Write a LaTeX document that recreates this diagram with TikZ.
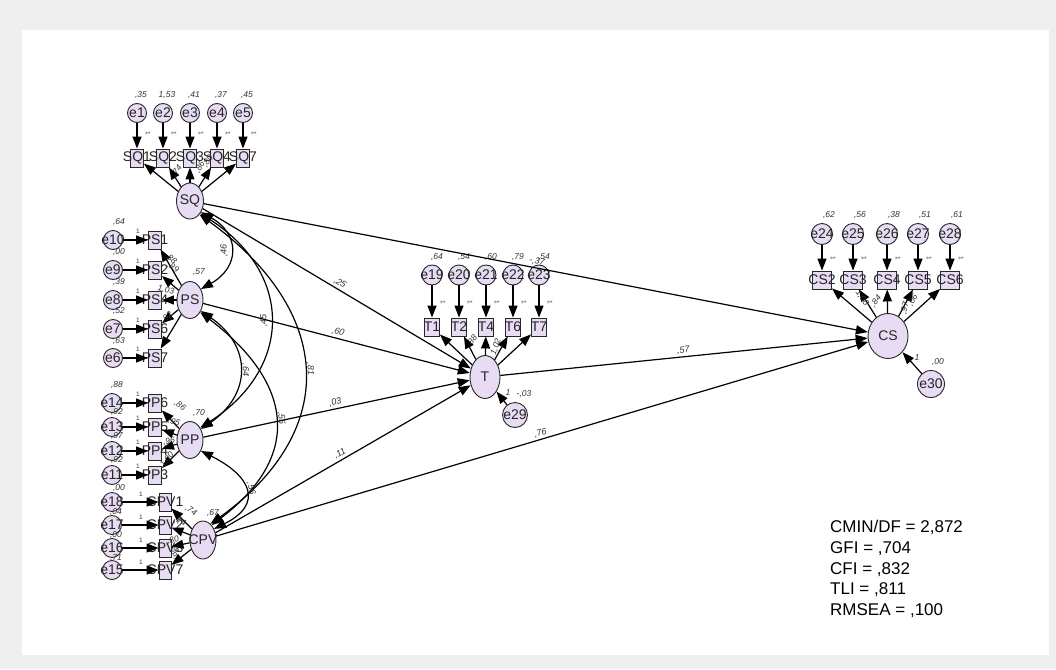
\documentclass[tikz,border=0pt]{standalone}
\usepackage{fontspec}
\setmainfont{Liberation Sans}
\usetikzlibrary{shapes.geometric,arrows.meta}
\definecolor{lav}{RGB}{231,220,243}
\definecolor{bgc}{RGB}{239,239,239}
\definecolor{ln}{RGB}{40,40,40}
\begin{document}
\begin{tikzpicture}[x=1pt,y=-1pt,
  txt/.style={font=\fontsize{14}{14}\selectfont,text=black!85},
  sm/.style={font=\itshape\fontsize{8.5}{9}\selectfont,inner sep=0.5pt,text=black!80},
  one/.style={font=\fontsize{6.5}{6.5}\selectfont,inner sep=0pt,text=black!80},
  fit/.style={font=\fontsize{17}{17}\selectfont,anchor=base west,inner sep=0pt},
  nm/.style={label={[txt]center:#1}},
  err/.style={circle,draw=ln,line width=0.9pt,fill=lav,minimum size=#1,inner sep=0pt},
  err/.default=19pt,
  obs/.style={rectangle,draw=ln,line width=0.9pt,fill=lav,minimum width=#1,minimum height=18pt,inner sep=0pt},
  obs/.default=13pt,
  lat/.style={ellipse,draw=ln,line width=0.9pt,fill=lav,inner sep=0pt},
  arr/.style={-{Triangle[length=12pt,width=9pt]},line width=1.2pt},
  cov/.style={{Triangle[length=12pt,width=9pt]}-{Triangle[length=12pt,width=9pt]},line width=1.2pt},
  pl/.style={font=\itshape\fontsize{9}{9}\selectfont,inner sep=2pt,text=black!80}
]
\useasboundingbox (0,0) rectangle (1056,669);
\fill[bgc] (0,0) rectangle (1056,669);
\fill[white] (22,30) rectangle (1049,655);

% ---------- SQ cluster ----------
\node[lat,minimum width=27pt,minimum height=36pt,nm=SQ] (SQ) at (190,201) {};
\foreach \x/\e/\b/\v [count=\i] in {137/e1/SQ1/{,35},163/e2/SQ2/{1,53},190/e3/SQ3/{,41},217/e4/SQ4/{,37},243/e5/SQ7/{,45}}{
  \node[err,nm=\e] (\e) at (\x,113) {};
  \node[obs,nm=\b] (\b) at (\x,158) {};
  \node[sm] (v\e) at (\x+4,95) {\v};
  \node[one,rotate=-90] (o\e) at (\x+11,133) {1};
  \draw[arr] (\e) -- (\b);
  \draw[arr] (SQ) -- (\b);
}
\node[sm,rotate=55] (lsq2) at (177,171) {,74};
\node[sm,rotate=60] (lsq4) at (200,167) {,86};
\node[sm,rotate=55] (lsq5) at (208,161) {,80};

% ---------- PS cluster ----------
\node[lat,minimum width=26pt,minimum height=37pt,nm=PS] (PS) at (190,300) {};
\foreach \y/\e/\b/\v/\vy in {240/e10/PS1/{,64}/222,270/e9/PS2/{,00}/252,300/e8/PS4/{,39}/282,329/e7/PS6/{,52}/311,358/e6/PS7/{,63}/341}{
  \node[err,nm=\e] (\e) at (113,\y) {};
  \node[obs,nm=\b] (\b) at (155,\y) {};
  \node[sm] (v\e) at (119,\vy) {\v};
  \node[one] (o\e) at (138,\y-9) {1};
  \draw[arr] (\e) -- (\b);
  \draw[arr] (PS) -- (\b);
}
\node[sm,rotate=-40] (lps1) at (171,259) {,88};
\node[sm,rotate=-35] (lps2) at (173,268) {,89};
\node[sm,rotate=-10] (lps4) at (166,290) {1,03};
\node[sm,rotate=40] (lps6) at (167,317) {,92};
\node[sm] (vPS) at (199,272) {,57};

% ---------- PP cluster ----------
\node[lat,minimum width=26pt,minimum height=37pt,nm=PP] (PP) at (190,440) {};
\foreach \y/\e/\b/\v/\vy in {403/e14/PP6/{,88}/385,427/e13/PP5/{,92}/412,451/e12/PP4/{,97}/436,475/e11/PP3/{,92}/460}{
  \node[err,nm=\e] (\e) at (112,\y) {};
  \node[obs,nm=\b] (\b) at (155,\y) {};
  \node[sm] (v\e) at (117,\vy) {\v};
  \node[one] (o\e) at (138,\y-9) {1};
  \draw[arr] (\e) -- (\b);
  \draw[arr] (PP) -- (\b);
}
\node[sm] (v11b) at (119,488) {,00};
\node[sm,rotate=-35] (lpp6) at (180,406) {,86};
\node[sm,rotate=-20] (lpp5) at (174,422) {,95};
\node[sm,rotate=10] (lpp4) at (169,441) {,96};
\node[sm,rotate=50] (lpp3) at (167,460) {1,00};
\node[sm] (vPP) at (199,413) {,70};

% ---------- CPV cluster ----------
\node[lat,minimum width=26pt,minimum height=38pt,nm=CPV] (CPV) at (203,540) {};
\foreach \y/\e/\b/\v/\vy in {502/e18/CPV1/{,04}/512,525/e17/CPV2/{,00}/535,548/e16/CPV3/{,71}/558,570/e15/CPV7/{}/580}{
  \node[err,nm=\e] (\e) at (112,\y) {};
  \node[obs=12pt,nm=\b] (\b) at (165,\y) {};
  \node[sm] (v\e) at (116,\vy) {\v};
  \node[one] (o\e) at (141,\y-8) {1};
  \draw[arr] (\e) -- (\b);
  \draw[arr] (CPV) -- (\b);
}
\node[sm,rotate=-35] (lcp1) at (191,511) {,74};
\node[sm,rotate=-20] (lcp2) at (180,522) {,74};
\node[sm,rotate=15] (lcp3) at (173,540) {,80};
\node[sm,rotate=60] (lcp7) at (175,553) {,86};
\node[sm] (vCPV) at (213,513) {,67};

% ---------- T cluster ----------
\node[lat,minimum width=30pt,minimum height=43pt,nm=T] (T) at (485,377) {};
\foreach \x/\e/\b/\v in {432/e19/T1/{,64},459/e20/T2/{,54},486/e21/T4/{,60},513/e22/T6/{,79},539/e23/T7/{,54}}{
  \node[err=20pt,nm=\e] (\e) at (\x,275) {};
  \node[obs=15pt,nm=\b] (\b) at (\x,327) {};
  \node[sm] (v\e) at (\x+5,257) {\v};
  \node[one,rotate=-90] (o\e) at (\x+11,302) {1};
  \draw[arr] (\e) -- (\b);
  \draw[arr] (T) -- (\b);
}
\node[sm,rotate=50] (lt2) at (472,341) {,88};
\node[sm,rotate=70] (lt6) at (496,347) {1,02};
\node[err=25pt,nm=e29] (e29) at (515,415) {};
\draw[arr] (e29) -- (T);
\node[sm] (o29) at (508,393) {1};
\node[sm] (v29) at (524,394) {-,03};

% ---------- CS cluster ----------
\node[lat,minimum width=40pt,minimum height=45pt,nm=CS] (CS) at (888,336) {};
\foreach \x/\e/\b/\v in {822/e24/CS2/{,62},853/e25/CS3/{,56},887/e26/CS4/{,38},918/e27/CS5/{,51},950/e28/CS6/{,61}}{
  \node[err=21pt,nm=\e] (\e) at (\x,234) {};
  \node[obs=19pt,nm=\b] (\b) at (\x,280) {};
  \node[sm] (v\e) at (\x+7,215) {\v};
  \node[one,rotate=-90] (o\e) at (\x+11,258) {1};
  \draw[arr] (\e) -- (\b);
  \draw[arr] (CS) -- (\b);
}
\node[sm,rotate=-55] (lcs2) at (862,298) {1,00};
\node[sm,rotate=50] (lcs3) at (876,301) {,84};
\node[sm,rotate=75] (lcs5) at (905,308) {,97};
\node[sm,rotate=60] (lcs6) at (913,300) {,06};
\node[err=27pt,nm=e30] (e30) at (931,384) {};
\draw[arr] (e30) -- (CS);
\node[sm] (o30) at (917,358) {1};
\node[sm] (v30) at (938,362) {,00};

% ---------- structural paths ----------
\draw[arr] (SQ) -- node[pl,midway,sloped,above] (p1) {-,37} (CS);
\draw[arr] (SQ) -- node[pl,midway,sloped,above] (p2) {,25} (T);
\draw[arr] (PS) -- node[pl,midway,sloped,above] (p3) {,60} (T);
\draw[arr] (PP) -- node[pl,midway,sloped,above] (p4) {,03} (T);
\draw[arr] (CPV) -- node[pl,midway,sloped,above] (p5) {,11} (T);
\draw[arr] (CPV) -- node[pl,midway,sloped,above] (p6) {,76} (CS);
\draw[arr] (T) -- node[pl,midway,sloped,above] (p7) {,57} (CS);

% ---------- covariances ----------
\draw[cov] (SQ.-45) .. controls +(39,22) and +(39,-22) .. node[pl,midway,sloped,above] (c1) {,46} (PS.45);
\draw[cov] (SQ.-50) .. controls +(93,60) and +(93,-60) .. node[pl,midway,sloped,above] (c2) {,45} (PP.50);
\draw[cov] (SQ.-55) .. controls +(132,95) and +(132,-95) .. node[pl,midway,sloped,above] (c3) {,81} (CPV.65);
\draw[cov] (PS.-45) .. controls +(51,35) and +(51,-35) .. node[pl,midway,sloped,above] (c4) {,64} (PP.45);
\draw[cov] (PS.-50) .. controls +(92,70) and +(92,-70) .. node[pl,midway,sloped,above] (c5) {,55} (CPV.60);
\draw[cov] (PP.-45) .. controls +(50,25) and +(50,-25) .. node[pl,midway,sloped,above] (c6) {,56} (CPV.45);

% ---------- fit indices ----------
\node[fit] (f1) at (830,532) {CMIN/DF = 2,872};
\node[fit] (f2) at (830,553) {GFI = ,704};
\node[fit] (f3) at (830,574) {CFI = ,832};
\node[fit] (f4) at (830,594) {TLI = ,811};
\node[fit] (f5) at (830,615) {RMSEA = ,100};
\end{tikzpicture}
\end{document}
